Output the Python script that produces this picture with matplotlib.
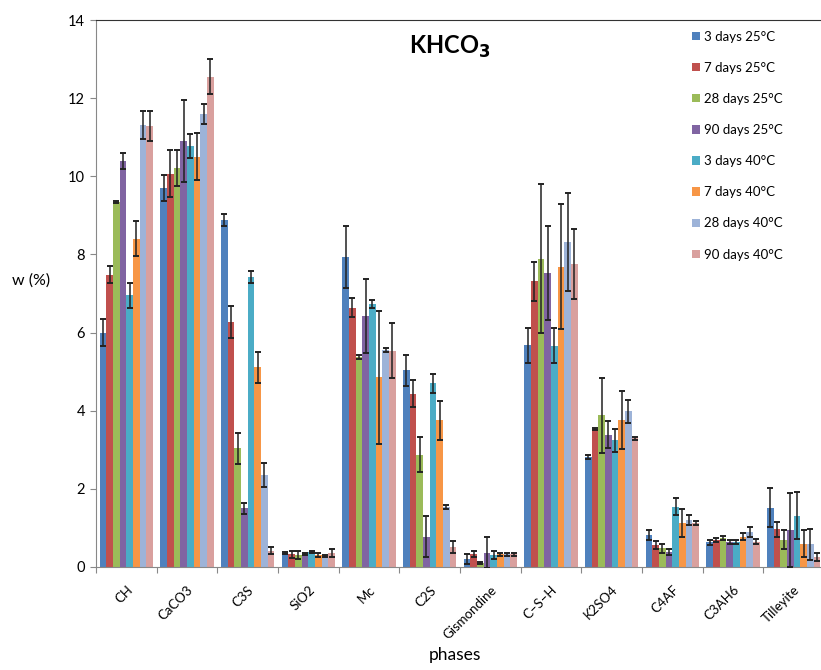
import numpy as np
import matplotlib
matplotlib.use("Agg")
import matplotlib.pyplot as plt

plt.rcParams['font.family'] = ['Lato', 'DejaVu Sans']

# Dados
phases = ["CH", "CaCO3", "C3S", "SiO2", "Mc", "C2S", "Gismondine",
          "C\u2013S\u2013H", "K2SO4", "C4AF", "C3AH6", "Tilleyite"]
series = ["3 days 25°C", "7 days 25°C", "28 days 25°C", "90 days 25°C",
          "3 days 40°C", "7 days 40°C", "28 days 40°C", "90 days 40°C"]
colors = ["#4F81BD", "#C0504D", "#9BBB59", "#8064A2",
          "#4BACC6", "#F79646", "#9DB3D8", "#D9A09E"]

# valores por serie (uma lista por serie, na ordem das fases)
d3_25  = [6.0, 9.70, 8.89, 0.35, 7.94, 5.03, 0.20, 5.67, 2.82, 0.82, 0.63, 1.52]
d7_25  = [7.48, 10.06, 6.27, 0.32, 6.64, 4.44, 0.33, 7.31, 3.54, 0.56, 0.69, 0.96]
d28_25 = [9.35, 10.21, 3.04, 0.31, 5.38, 2.87, 0.10, 7.89, 3.88, 0.48, 0.75, 0.70]
d90_25 = [10.39, 10.90, 1.50, 0.33, 6.42, 0.78, 0.37, 7.53, 3.39, 0.38, 0.65, 0.95]
d3_40  = [6.95, 10.78, 7.42, 0.38, 6.73, 4.70, 0.30, 5.66, 3.24, 1.54, 0.65, 1.31]
d7_40  = [8.40, 10.50, 5.11, 0.31, 4.86, 3.75, 0.32, 7.68, 3.76, 1.13, 0.78, 0.60]
d28_40 = [11.31, 11.60, 2.36, 0.28, 5.56, 1.53, 0.32, 8.32, 3.98, 1.20, 0.90, 0.58]
d90_40 = [11.29, 12.55, 0.42, 0.35, 5.54, 0.51, 0.32, 7.76, 3.29, 1.12, 0.65, 0.26]

e3_25  = [0.35, 0.33, 0.15, 0.03, 0.80, 0.40, 0.12, 0.45, 0.05, 0.12, 0.06, 0.50]
e7_25  = [0.22, 0.60, 0.40, 0.10, 0.25, 0.35, 0.08, 0.50, 0.03, 0.10, 0.05, 0.20]
e28_25 = [0.03, 0.45, 0.40, 0.10, 0.05, 0.45, 0.03, 1.90, 0.95, 0.12, 0.05, 0.25]
e90_25 = [0.20, 1.05, 0.15, 0.03, 0.95, 0.52, 0.40, 1.20, 0.35, 0.08, 0.05, 0.95]
e3_40  = [0.33, 0.30, 0.15, 0.03, 0.10, 0.25, 0.10, 0.45, 0.30, 0.22, 0.05, 0.60]
e7_40  = [0.45, 0.60, 0.40, 0.05, 1.70, 0.50, 0.05, 1.60, 0.75, 0.35, 0.10, 0.35]
e28_40 = [0.35, 0.25, 0.30, 0.03, 0.05, 0.05, 0.05, 1.25, 0.30, 0.12, 0.12, 0.40]
e90_40 = [0.38, 0.45, 0.08, 0.10, 0.70, 0.15, 0.05, 0.90, 0.05, 0.05, 0.07, 0.10]

vals = [d3_25, d7_25, d28_25, d90_25, d3_40, d7_40, d28_40, d90_40]
errs = [e3_25, e7_25, e28_25, e90_25, e3_40, e7_40, e28_40, e90_40]

# Figura
fig = plt.figure(figsize=(8.21, 6.70), dpi=100)
ax = fig.add_axes([96/821, 1-567/670, 728/821, 547/670])

x = np.arange(len(phases))
w = 0.11
for i in range(len(series)):
    xi = x - 3.5*w + i*w
    ax.bar(xi, vals[i], width=w, color=colors[i], label=series[i],
           edgecolor="none", zorder=2)
    ax.errorbar(xi, vals[i], yerr=errs[i], fmt="none", ecolor="#222222",
                elinewidth=1.1, capsize=2.5, capthick=1.4, zorder=3)

ax.set_xlim(-0.5, len(phases) - 0.5)
ax.set_ylim(0, 14)
ax.set_yticks(np.arange(0, 15, 2))
ax.set_xticks(np.arange(-0.5, len(phases), 1))
ax.set_xticklabels([])
ax.set_xticks(x, minor=True)
ax.set_xticklabels(phases, minor=True, rotation=45, ha="right",
                   rotation_mode="anchor", fontsize=9.5)
ax.tick_params(axis="x", which="minor", length=0, pad=12)
ax.tick_params(axis="x", which="major", length=4, color="#888888")
ax.tick_params(axis="y", length=4, color="#888888", labelsize=10.5, pad=4)
for s in ["left", "bottom"]:
    ax.spines[s].set_color("#888888")
ax.spines["top"].set_color("#333333")
ax.spines["right"].set_visible(False)

fig.text(31/821, 1-281/670, "w (%)", ha="center", va="center", fontsize=11.5)
fig.text(455/821, 1-655/670, "phases", ha="center", va="center", fontsize=12.5)

ax.text(0.486, 0.95, "KHCO$_\\mathbf{3}$", transform=ax.transAxes,
        ha="center", va="center", fontsize=17, fontweight="bold")

leg = ax.legend(loc="upper left", bbox_to_anchor=(0.808, 0.995), frameon=False,
                fontsize=9.5, handlelength=0.6, handleheight=0.6,
                handletextpad=0.3, labelspacing=1.45, borderaxespad=0.2)

fig.savefig("out.png", dpi=100)
